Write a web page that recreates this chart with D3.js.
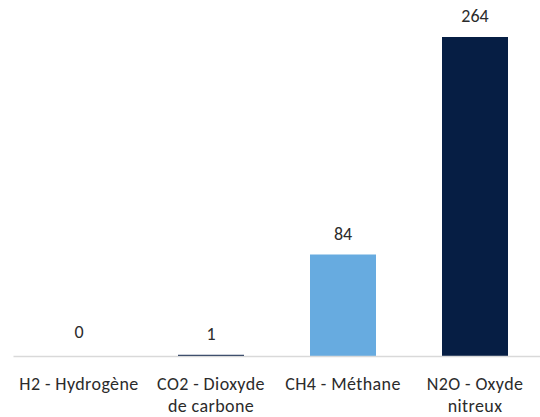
<!DOCTYPE html>
<html>
<head>
<meta charset="utf-8">
<script src="https://cdn.jsdelivr.net/npm/d3@7"></script>
<style>
  html, body { margin: 0; padding: 0; background: #fff; }
  svg { display: block; }
  text { font-family: Calibri, Carlito, Lato, "Open Sans", sans-serif; }
</style>
</head>
<body>
<svg id="chart" width="540" height="417"></svg>
<script>
// Gaz et valeurs affichées
const categories = ["H2 - Hydrogène", "CO2 - Dioxyde de carbone", "CH4 - Méthane", "N2O - Oxyde nitreux"];
const values = [0, 1, 84, 264];
const tickLines = [["H2 - Hydrogène"], ["CO2 - Dioxyde", "de carbone"], ["CH4 - Méthane"], ["N2O - Oxyde", "nitreux"]];
const barColors = ["#0a2148", "#0a2148", "#67abe0", "#061e44"];

const svg = d3.select("#chart");
const baseY = 356;

const x = d3.scaleBand()
  .domain(categories)
  .range([13, 541])
  .paddingInner(0.5)
  .paddingOuter(0.25);

const y = d3.scaleLinear()
  .domain([0, 264])
  .range([baseY, 37]);

// Barres
svg.append("g")
  .selectAll("rect")
  .data(categories)
  .join("rect")
  .attr("x", d => x(d))
  .attr("width", x.bandwidth())
  .attr("y", (d, i) => y(values[i]))
  .attr("height", (d, i) => baseY - y(values[i]))
  .attr("fill", (d, i) => barColors[i]);

// Axe horizontal
const axis = svg.append("g")
  .attr("transform", `translate(0,${baseY})`)
  .call(d3.axisBottom(x).tickSize(0).tickSizeOuter(0).tickFormat(""));
axis.select(".domain").attr("stroke", "#d9d9d9").attr("stroke-width", 1.5);

// Libellés des catégories, une ligne par tspan
axis.selectAll(".tick text").remove();
axis.selectAll(".tick").each(function(d, i) {
  const t = d3.select(this).append("text")
    .attr("text-anchor", "middle")
    .attr("fill", "#2b2b2b")
    .style("font-size", "18px")
    .style("letter-spacing", "0.4px");
  tickLines[i].forEach((line, j) => {
    t.append("tspan")
      .attr("x", 0)
      .attr("y", 34 + j * 21.5)
      .text(line);
  });
});

// Étiquettes de valeurs
svg.append("g")
  .selectAll("text")
  .data(categories)
  .join("text")
  .attr("x", d => x(d) + x.bandwidth() / 2)
  .attr("y", (d, i) => y(values[i]) - (values[i] === 0 ? 18 : 15))
  .attr("text-anchor", "middle")
  .attr("fill", "#2b2b2b")
  .style("font-size", "18px")
  .text((d, i) => values[i]);
</script>
</body>
</html>
